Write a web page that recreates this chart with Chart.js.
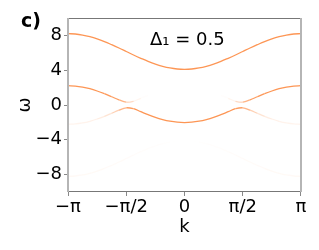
<!DOCTYPE html>
<html>
<head>
<meta charset="utf-8">
<script src="https://cdn.jsdelivr.net/npm/chart.js@4"></script>
<style>
  html, body { margin: 0; padding: 0; background: #fff; }
  #c { display: block; }
</style>
</head>
<body>
<canvas id="c" width="319" height="250"></canvas>
<script>
// k grid, step pi/16 from -pi to pi
var kValues = [-3.1416, -2.9452, -2.7489, -2.5525, -2.3562, -2.1598, -1.9635, -1.7671, -1.5708,
  -1.3744, -1.1781, -0.9817, -0.7854, -0.5890, -0.3927, -0.1963, 0,
  0.1963, 0.3927, 0.5890, 0.7854, 0.9817, 1.1781, 1.3744, 1.5708,
  1.7671, 1.9635, 2.1598, 2.3562, 2.5525, 2.7489, 2.9452, 3.1416];

// upper band (4 .. 8.2) and its faint mirror
var bandHigh = [8.20, 8.16, 8.04, 7.85, 7.60, 7.29, 6.93, 6.55, 6.15, 5.75, 5.37, 5.01, 4.70, 4.45, 4.26, 4.14, 4.10,
  4.14, 4.26, 4.45, 4.70, 5.01, 5.37, 5.75, 6.15, 6.55, 6.93, 7.29, 7.60, 7.85, 8.04, 8.16, 8.20];
var bandHighMirror = [-8.20, -8.16, -8.04, -7.85, -7.60, -7.29, -6.93, -6.55, -6.15, -5.75, -5.37, -5.01, -4.70, -4.45, -4.26, -4.14, -4.10,
  -4.14, -4.26, -4.45, -4.70, -5.01, -5.37, -5.75, -6.15, -6.55, -6.93, -7.29, -7.60, -7.85, -8.04, -8.16, -8.20];
// gapped low bands
var bandUp = [2.22, 2.18, 2.06, 1.87, 1.61, 1.30, 0.95, 0.59, 0.32, 0.43, 0.77, 1.11, 1.42, 1.67, 1.86, 1.98, 2.02,
  1.98, 1.86, 1.67, 1.42, 1.11, 0.77, 0.43, 0.32, 0.59, 0.95, 1.30, 1.61, 1.87, 2.06, 2.18, 2.22];
var bandDown = [-2.22, -2.18, -2.06, -1.87, -1.61, -1.30, -0.95, -0.59, -0.32, -0.43, -0.77, -1.11, -1.42, -1.67, -1.86, -1.98, -2.02,
  -1.98, -1.86, -1.67, -1.42, -1.11, -0.77, -0.43, -0.32, -0.59, -0.95, -1.30, -1.61, -1.87, -2.06, -2.18, -2.22];

// intensity along each band (how dark the line looks)
var weightHigh = [1, 1, 1, 1, 1, 1, 1, 1, 1, 1, 1, 1, 1, 1, 1, 1, 1,
  1, 1, 1, 1, 1, 1, 1, 1, 1, 1, 1, 1, 1, 1, 1, 1];
var weightHighMirror = [0.06, 0.06, 0.05, 0.05, 0.05, 0.05, 0.04, 0.04, 0.04, 0.03, 0.03, 0.02, 0.02, 0.01, 0.01, 0, 0,
  0, 0.01, 0.01, 0.02, 0.02, 0.03, 0.03, 0.04, 0.04, 0.04, 0.05, 0.05, 0.05, 0.05, 0.06, 0.06];
var weightUp = [1, 1, 1, 1, 1, 1, 0.95, 0.9, 0.55, 0.15, 0.04, 0, 0, 0, 0, 0, 0,
  0, 0, 0, 0, 0, 0.04, 0.15, 0.55, 0.9, 0.95, 1, 1, 1, 1, 1, 1];
var weightDown = [0.1, 0.1, 0.11, 0.12, 0.14, 0.2, 0.32, 0.55, 0.85, 1, 1, 1, 1, 1, 1, 1, 1,
  1, 1, 1, 1, 1, 1, 1, 0.85, 0.55, 0.32, 0.2, 0.14, 0.12, 0.11, 0.1, 0.1];

var kTicks = [-3.14159265, -1.57079633, 0, 1.57079633, 3.14159265];
var kTickLabels = ['\u2212\u03c0', '\u2212\u03c0/2', '0', '\u03c0/2', '\u03c0'];
var wTicks = [-8, -4, 0, 4, 8];
var wTickLabels = ['\u22128', '\u22124', '0', '4', '8'];

Chart.defaults.font.family = 'DejaVu Sans';
Chart.defaults.color = '#000';

function pts(ys) {
  return ys.map(function (y, i) { return { x: kValues[i], y: y }; });
}

function shade(weights) {
  return function (seg) {
    var a = (weights[seg.p0DataIndex] + weights[seg.p1DataIndex]) / 2;
    return 'rgba(253,150,85,' + a.toFixed(3) + ')';
  };
}

function band(ys, weights) {
  return {
    data: pts(ys),
    borderColor: 'rgba(253,150,85,1)',
    borderWidth: 1.3,
    pointRadius: 0,
    tension: 0.4,
    segment: { borderColor: shade(weights) }
  };
}

var frame = {
  id: 'frame',
  afterDraw(chart) {
    var c = chart.ctx, a = chart.chartArea;
    c.save();
    c.strokeStyle = '#777';
    c.lineWidth = 1;
    c.beginPath();
    c.moveTo(a.left, a.top + 0.5); c.lineTo(a.right, a.top + 0.5);
    c.moveTo(a.left, a.bottom - 0.5); c.lineTo(a.right, a.bottom - 0.5);
    c.stroke();
    c.strokeStyle = '#b5b5b5';
    c.lineWidth = 2;
    c.beginPath();
    c.moveTo(a.left, a.top); c.lineTo(a.left, a.bottom);
    c.moveTo(a.right, a.top); c.lineTo(a.right, a.bottom);
    c.stroke();

    c.fillStyle = '#000';
    c.textBaseline = 'alphabetic';
    c.textAlign = 'left';
    c.font = 'bold 19px "DejaVu Sans"';
    c.fillText('c)', 21, 27);
    c.font = '18px "DejaVu Sans"';
    c.fillText('\u0394\u2081 = 0.5', 150, 45);
    c.restore();
  }
};

new Chart(document.getElementById('c'), {
  type: 'line',
  data: {
    datasets: [
      band(bandHighMirror, weightHighMirror),
      band(bandDown, weightDown),
      band(bandUp, weightUp),
      band(bandHigh, weightHigh)
    ]
  },
  options: {
    responsive: false,
    animation: false,
    devicePixelRatio: 1,
    layout: { padding: { top: 18, right: 18, left: 0, bottom: 0 } },
    plugins: { legend: { display: false }, tooltip: { enabled: false } },
    scales: {
      x: {
        type: 'linear',
        min: -Math.PI,
        max: Math.PI,
        afterBuildTicks: function (s) { s.ticks = kTicks.map(function (v) { return { value: v }; }); },
        afterFit: function (s) { s.height = 58; },
        ticks: {
          font: { size: 18 },
          padding: 1,
          maxRotation: 0,
          autoSkip: false,
          callback: function (v, i) { return kTickLabels[i]; }
        },
        grid: { drawOnChartArea: false, drawTicks: true, tickLength: 4, color: '#888' },
        border: { display: false },
        title: { display: true, text: 'k', font: { size: 18 }, padding: { top: 0, bottom: 12 } }
      },
      y: {
        min: -10,
        max: 10,
        afterBuildTicks: function (s) { s.ticks = wTicks.map(function (v) { return { value: v }; }); },
        afterFit: function (s) { s.width = 68; },
        ticks: {
          font: { size: 18 },
          padding: 2,
          autoSkip: false,
          callback: function (v, i) { return wTickLabels[i]; }
        },
        grid: { drawOnChartArea: false, drawTicks: true, tickLength: 4, color: '#888' },
        border: { display: false },
        title: { display: true, text: '\u03c9', font: { size: 18 }, padding: { top: 15, bottom: 0 } }
      }
    }
  },
  plugins: [frame]
});
</script>
</body>
</html>
